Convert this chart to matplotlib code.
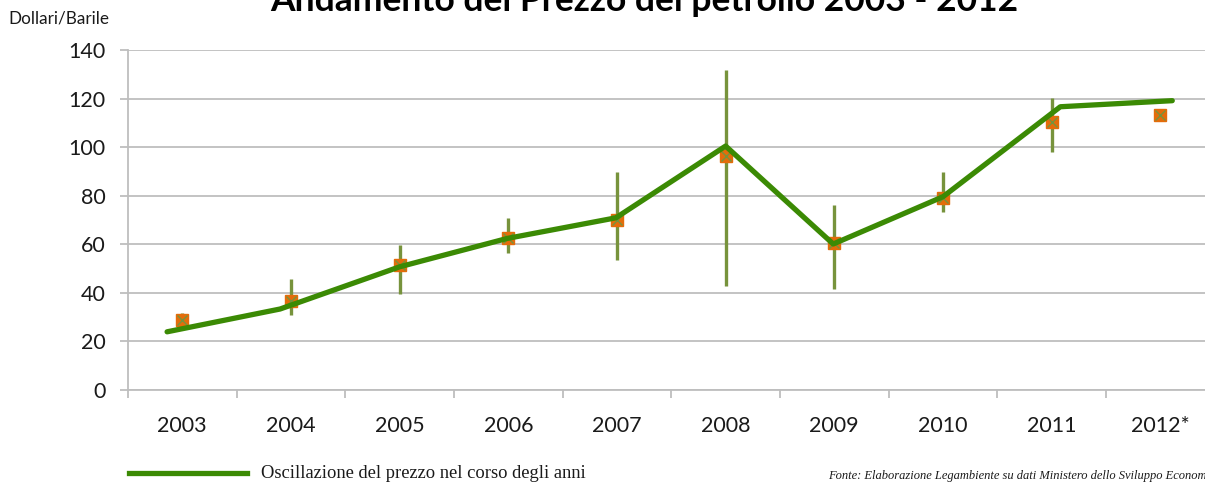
import numpy as np
import matplotlib
matplotlib.use("Agg")
import matplotlib.pyplot as plt

# Data
years = ["2003", "2004", "2005", "2006", "2007", "2008", "2009", "2010", "2011", "2012*"]
avg_price = [28.7, 36.6, 51.3, 62.3, 69.9, 96.3, 60.3, 78.8, 110.4, 113.2]
high_price = [31.7, 45.4, 59.6, 70.6, 89.8, 131.8, 76.1, 89.8, 120.2, 113.6]
low_price = [27.5, 30.7, 39.4, 56.4, 53.4, 42.7, 41.3, 73.3, 97.9, 112.8]

# trend line (drawn slightly off the category centres in the original)
trend_pos = [-0.14, 0.90, 2.0, 2.99, 3.99, 5.0, 5.99, 7.0, 8.08, 9.11]
trend_val = [23.8, 33.2, 50.6, 62.3, 70.8, 100.4, 60.0, 79.5, 116.6, 119.1]

line_green = "#3B8A04"
olive = "#77933C"
orange = "#E46C0A"
grid_grey = "#BEBEBE"

plt.rcParams["font.family"] = ["Lato", "DejaVu Sans"]

fig = plt.figure(figsize=(12.05, 4.84), dpi=100)
ax = fig.add_axes([0.1062, 0.1952, 0.9018, 0.7015])

x = np.arange(len(years))
avg = np.array(avg_price)
yerr = [avg - np.array(low_price), np.array(high_price) - avg]

# high-low bars
ax.errorbar(x, avg, yerr=yerr, fmt="none", ecolor=olive, elinewidth=2.4,
            capsize=0, zorder=3)
# orange square with green cross on top
ax.plot(x, avg, linestyle="none", marker="s", markersize=8.8,
        markerfacecolor=orange, markeredgecolor=orange, zorder=4)
ax.plot(x, avg, linestyle="none", marker="x", markersize=6.8,
        markeredgecolor=olive, markeredgewidth=1.0, zorder=5)

# trend line
ax.plot(trend_pos, trend_val, color=line_green, linewidth=3.8,
        solid_joinstyle="round", solid_capstyle="round", zorder=6)

ax.set_xlim(-0.5, len(years) - 0.5)
ax.set_ylim(0, 140)
ax.set_yticks(np.arange(0, 141, 20))
ax.set_xticks(x)
ax.set_xticklabels(years)
ax.set_xticks(np.arange(len(years) + 1) - 0.5, minor=True)

ax.grid(axis="y", color=grid_grey, linewidth=1.3, zorder=0)
ax.set_axisbelow(True)
for side in ["top", "right"]:
    ax.spines[side].set_visible(False)
for side in ["left", "bottom"]:
    ax.spines[side].set_color(grid_grey)
    ax.spines[side].set_linewidth(1.3)

ax.tick_params(axis="y", direction="out", length=6, width=1.3, color=grid_grey,
               labelsize=15.5, labelcolor="#1a1a1a", pad=10)
ax.tick_params(axis="x", which="major", length=0, labelsize=15.5,
               labelcolor="#1a1a1a", pad=19)
ax.tick_params(axis="x", which="minor", direction="out", length=6, width=1.3,
               color=grid_grey)

fig.text(0.535, 0.978, "Andamento del Prezzo del petrolio 2003 - 2012",
         ha="center", va="baseline", fontsize=25.5, fontweight="bold",
         color="#000000")
fig.text(0.007, 0.952, "Dollari/Barile", ha="left", va="baseline",
         fontsize=12.3, color="#1a1a1a")

# legend drawn by hand below the chart
fig.add_artist(plt.Line2D([0.107, 0.205], [0.023, 0.023], color=line_green,
                          linewidth=3.8, transform=fig.transFigure))
fig.text(0.217, 0.013, "Oscillazione del prezzo nel corso degli anni",
         ha="left", va="baseline", fontsize=13.3,
         family=["Liberation Serif", "DejaVu Serif"], color="#1a1a1a")
fig.text(0.687, 0.010,
         "Fonte: Elaborazione Legambiente su dati Ministero dello Sviluppo Economico",
         ha="left", va="baseline", fontsize=9.0, style="italic",
         family=["Liberation Serif", "DejaVu Serif"], color="#1a1a1a")

fig.savefig("out.png", dpi=100)
